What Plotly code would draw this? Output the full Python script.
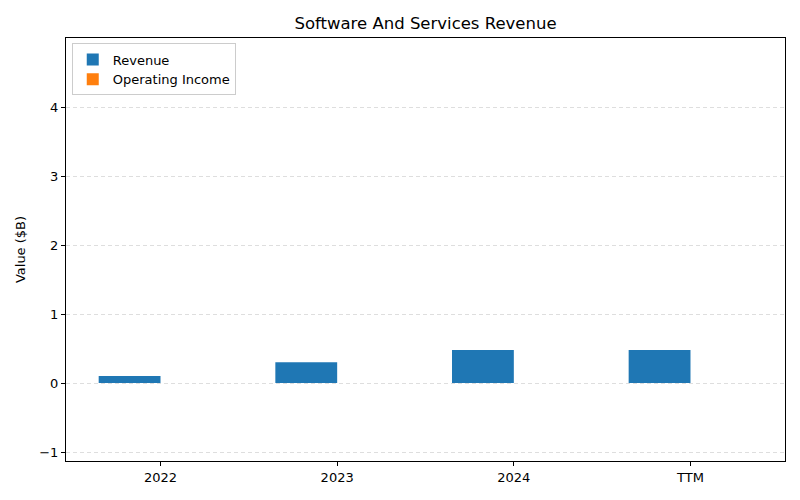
import plotly.graph_objects as go

periods = ["2022", "2023", "2024", "TTM"]
revenue = [0.10, 0.30, 0.48, 0.48]
operating_income = [0.0, 0.0, 0.0, 0.0]


def main():
    fig = go.Figure()
    fig.add_trace(go.Bar(x=periods, y=revenue, name="Revenue", marker_color="#1f77b4",
                         marker_line_width=0))
    fig.add_trace(go.Bar(x=periods, y=operating_income, name="Operating Income",
                         marker_color="#ff7f0e", marker_line_width=0))

    fig.update_layout(
        width=800, height=500,
        margin=dict(l=66, r=15, t=38, b=39, autoexpand=False),
        font=dict(family="DejaVu Sans", size=13, color="black"),
        title=dict(text="Software And Services Revenue", xref="paper", x=0.5, xanchor="center",
                   y=0.954, yanchor="middle", font=dict(size=16.5)),
        plot_bgcolor="white", paper_bgcolor="white",
        barmode="group", bargap=0.3, bargroupgap=0,
        legend=dict(x=0.008, y=0.987, xanchor="left", yanchor="top",
                    bordercolor="#cccccc", borderwidth=1, bgcolor="rgba(255,255,255,0.8)",
                    font=dict(size=13), tracegroupgap=0, itemwidth=30),
    )
    fig.update_xaxes(type="category", range=[-0.535, 3.535], showline=True, linecolor="black",
                     mirror=True, ticks="outside", ticklen=4, tickcolor="black", showgrid=False,
                     automargin=False)
    fig.update_yaxes(range=[-1.13, 5.0], tickvals=[-1, 0, 1, 2, 3, 4], showline=True,
                     linecolor="black", mirror=True, ticks="outside", ticklen=4,
                     tickcolor="black", showgrid=True, gridcolor="#dedede",
                     griddash="4px,3px", zeroline=False, automargin=False,
                     title=dict(text="Value ($B)", standoff=10, font=dict(size=13)))

    # the page's default body margin shifts the figure; drop it
    fig.write_html("out.html", config={"displayModeBar": False},
                   post_script="document.body.style.margin='0';")


if __name__ == '__main__':
    main()
